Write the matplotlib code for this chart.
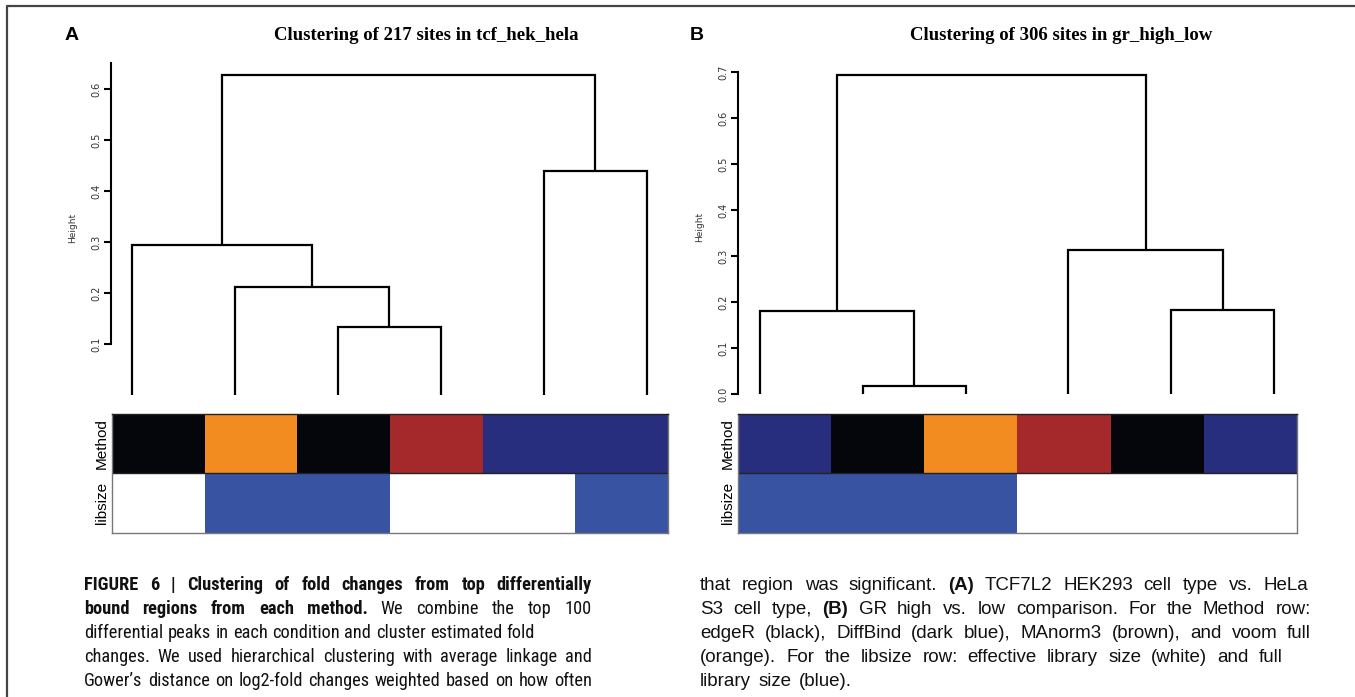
"""
Dendrograms of fold-change clustering (Figure 6 style), two panels + caption
"""
import numpy as np
import matplotlib
matplotlib.use("Agg")
import matplotlib.pyplot as plt
from matplotlib import font_manager

W, H = 1355, 697

# ---- data -------------------------------------------------------------
# merges in R hclust convention: negative = leaf (by plotted order), positive = earlier merge
a_title = "Clustering of 217 sites in tcf_hek_hela"
a_left = [-3, -2, -1, -5, 3]
a_right = [-4, 1, 2, -6, 4]
a_heights = [0.134, 0.211, 0.294, 0.440, 0.628]
a_ticks = [0.1, 0.2, 0.3, 0.4, 0.5, 0.6]
a_method = ["edgeR", "voom", "edgeR", "MAnorm3", "DiffBind", "DiffBind"]
a_libsize = ["effective", "full", "full", "effective", "effective", "full"]

b_title = "Clustering of 306 sites in gr_high_low"
b_left = [-2, -1, -5, -4, 2]
b_right = [-3, 1, -6, 3, 4]
b_heights = [0.017, 0.181, 0.183, 0.312, 0.694]
b_ticks = [0.0, 0.1, 0.2, 0.3, 0.4, 0.5, 0.6, 0.7]
b_method = ["DiffBind", "edgeR", "voom", "MAnorm3", "edgeR", "DiffBind"]
b_libsize = ["full", "full", "full", "effective", "effective", "effective"]

method_colors = {"edgeR": "#04060c", "DiffBind": "#272e7e",
                 "MAnorm3": "#a5292a", "voom": "#f38c20"}
libsize_colors = {"effective": "#ffffff", "full": "#3953a3"}

caption_left = [
    ([("FIGURE 6 | Clustering of fold changes from top differentially", "bold")], 592),
    ([("bound regions from each method.", "bold"), ("We combine the top 100", "normal")], 592),
    ([("differential peaks in each condition and cluster estimated fold", "normal")], 535),
    ([("changes. We used hierarchical clustering with average linkage and", "normal")], 592),
    ([("Gower\u2019s distance on log2-fold changes weighted based on how often", "normal")], 592),
]
caption_right = [
    ([("that region was significant.", "normal"), ("(A)", "bold"),
      ("TCF7L2 HEK293 cell type vs. HeLa", "normal")], 1308),
    ([("S3 cell type,", "normal"), ("(B)", "bold"),
      ("GR high vs. low comparison. For the Method row:", "normal")], 1311),
    ([("edgeR (black), DiffBind (dark blue), MAnorm3 (brown), and voom full", "normal")], 1311),
    ([("(orange). For the libsize row: effective library size (white) and full", "normal")], 1283),
    ([("library size (blue).", "normal")], None),
]

# left column of the caption is set narrower in the page than the right one
_names = {f.name for f in font_manager.fontManager.ttflist}
NARROW = ["Roboto Condensed", "Liberation Sans"] if "Roboto Condensed" in _names \
    else ["Liberation Sans", "DejaVu Sans"]
WIDE = ["Liberation Sans", "DejaVu Sans"]

fig = plt.figure(figsize=(W / 100, H / 100), dpi=100)


def px_axes(x0, y0, x1, y1):
    """axes from pixel box (top-left origin)"""
    return fig.add_axes([x0 / W, 1 - y1 / H, (x1 - x0) / W, (y1 - y0) / H])


def draw_dendrogram(ax, left, right, heights):
    xs, ys = {}, {}

    def pos(i):
        if i < 0:
            return -i, 0.0
        return xs[i], ys[i]

    for k, (l, r, h) in enumerate(zip(left, right, heights), start=1):
        x1, y1 = pos(l)
        x2, y2 = pos(r)
        ax.plot([x1, x1, x2, x2], [y1, h, h, y2], color="black", lw=1.6,
                solid_joinstyle="miter", solid_capstyle="butt")
        xs[k], ys[k] = (x1 + x2) / 2, h


def dendro_panel(box, leaf1_px, step_px, zero_px, unit_px, left, right, heights, ticks, top_val):
    x0, y0, x1, y1 = box
    ax = px_axes(x0, y0, x1, zero_px)
    draw_dendrogram(ax, left, right, heights)
    ax.set_xlim(1 - (leaf1_px - x0) / step_px, 1 + (x1 - leaf1_px) / step_px)
    ax.set_ylim(0, (zero_px - y0) / unit_px)
    for s in ["top", "right", "bottom"]:
        ax.spines[s].set_visible(False)
    ax.spines["left"].set_bounds(ticks[0], top_val)
    ax.spines["left"].set_linewidth(1.5)
    ax.set_xticks([])
    ax.set_yticks(ticks)
    ax.set_yticklabels([f"{t:.1f}" for t in ticks], rotation=90, va="center",
                       fontsize=7, color="#333333")
    ax.tick_params(axis="y", direction="out", length=5, width=1.5, pad=2)
    ax.set_ylabel("Height", fontsize=6.5, color="#333333", labelpad=10)
    ax.patch.set_alpha(0)
    return ax


def color_bar(box, method, libsize):
    x0, y0, x1, y1 = box
    ax = px_axes(x0, y0, x1, y1)
    rows = [[method_colors[m] for m in method], [libsize_colors[s] for s in libsize]]
    img = np.array([[matplotlib.colors.to_rgb(c) for c in r] for r in rows])
    ax.imshow(img, aspect="auto", interpolation="nearest",
              extent=(0, len(method), 2, 0))
    ax.axhline(1, color="#222222", lw=1)
    ax.set_xticks([])
    ax.set_yticks([0.5, 1.5])
    ax.set_yticklabels(["Method", "libsize"], rotation=90, va="center",
                       fontsize=11, family=["Liberation Sans", "DejaVu Sans"])
    ax.tick_params(axis="y", length=0, pad=2)
    for s in ax.spines.values():
        s.set_color("#777777")
        s.set_linewidth(1)
    ax.spines["top"].set_color("#222222")
    return ax


dendro_panel((111, 60, 700, 395), 132, 103, 395, 510,
             a_left, a_right, a_heights, a_ticks, 0.651)
dendro_panel((738, 60, 1330, 394), 760, 102.8, 394, 460,
             b_left, b_right, b_heights, b_ticks, 0.7)
color_bar((112, 414, 668, 533), a_method, a_libsize)
color_bar((738, 414, 1297, 533), b_method, b_libsize)

# panel letters and titles
fig.text(72 / W, 1 - 35 / H, "A", fontsize=14, fontweight="bold",
         family=["Liberation Sans", "DejaVu Sans"], ha="center", va="center")
fig.text(697 / W, 1 - 35 / H, "B", fontsize=14, fontweight="bold",
         family=["Liberation Sans", "DejaVu Sans"], ha="center", va="center")
fig.text(426 / W, 1 - 36 / H, a_title, fontsize=13.5, fontweight="bold",
         family=["Liberation Serif", "DejaVu Serif"], ha="center", va="center")
fig.text(1061 / W, 1 - 36 / H, b_title, fontsize=13.5, fontweight="bold",
         family=["Liberation Serif", "DejaVu Serif"], ha="center", va="center")

# thin frame at the top/left like the journal page
fig.add_artist(matplotlib.lines.Line2D([7 / W, 7 / W, 1], [0, 1 - 6 / H, 1 - 6 / H],
                                       color="#444444", lw=1.6))

# ---- justified caption ----------------------------------------------------
renderer = fig.canvas.get_renderer()


def build_column(lines, size, family):
    out = []
    for chunks, x_end in lines:
        words = []
        for text, weight in chunks:
            words += [(w, weight) for w in text.split()]
        objs = [fig.text(0, 0, w, fontsize=size, fontweight=wt, family=family,
                         color="#111111", ha="left", va="baseline")
                for w, wt in words]
        widths = [o.get_window_extent(renderer).width for o in objs]
        out.append((objs, widths, x_end))
    return out


def needed_scale(col, x0, size):
    # keep at least ~0.22 em between words
    worst = 1.0
    for objs, widths, x_end in col:
        if x_end is None or len(objs) < 2:
            continue
        min_gap = 0.22 * size * 100 / 72
        total = sum(widths) + min_gap * (len(objs) - 1)
        worst = max(worst, total / (x_end - x0))
    return worst


def place_column(col, x0, base_y, step, size):
    for i, (objs, widths, x_end) in enumerate(col):
        if x_end is None or len(objs) < 2:
            gap = 0.4 * size * 100 / 72
        else:
            gap = (x_end - x0 - sum(widths)) / (len(objs) - 1)
        x = x0
        y = 1 - (base_y + i * step) / H
        for o, w in zip(objs, widths):
            o.set_position((x / W, y))
            x += w + gap


def caption_column(lines, x0, base_y, size, family):
    col = build_column(lines, size, family)
    scale = needed_scale(col, x0, size)
    if scale > 1.0:
        for objs, _, _ in col:
            for o in objs:
                o.remove()
        size = size / scale
        col = build_column(lines, size, family)
    place_column(col, x0, base_y, 24, size)


caption_column(caption_left, 84, 590, 14, NARROW)
caption_column(caption_right, 700, 590, 13.5, WIDE)

fig.savefig("out.png", dpi=100)
